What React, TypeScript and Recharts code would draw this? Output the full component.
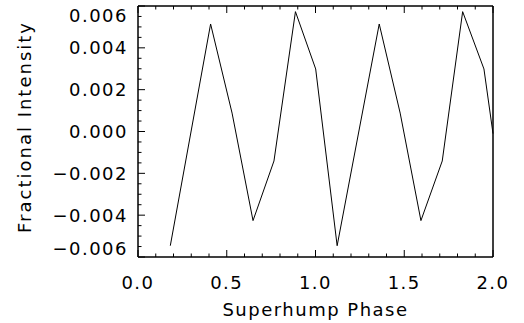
import { LineChart, Line, XAxis, YAxis, ReferenceArea } from "recharts";

const phase = [
  0.182, 0.409, 0.53, 0.648, 0.766, 0.887, 1.001, 1.122, 1.359, 1.477, 1.594,
  1.714, 1.829, 1.949, 2.0,
];
const intensity = [
  -0.00546, 0.00514, 0.00088, -0.00426, -0.00141, 0.00573, 0.00299, -0.00546,
  0.00514, 0.00088, -0.00426, -0.00141, 0.00573, 0.00299, -0.0001,
];

const xTicks = [
  0, 0.1, 0.2, 0.3, 0.4, 0.5, 0.6, 0.7, 0.8, 0.9, 1.0, 1.1, 1.2, 1.3, 1.4, 1.5,
  1.6, 1.7, 1.8, 1.9, 2.0,
];
const xMajor = [0, 0.5, 1.0, 1.5, 2.0];
const yTicks = [
  -0.006, -0.0055, -0.005, -0.0045, -0.004, -0.0035, -0.003, -0.0025, -0.002,
  -0.0015, -0.001, -0.0005, 0, 0.0005, 0.001, 0.0015, 0.002, 0.0025, 0.003,
  0.0035, 0.004, 0.0045, 0.005, 0.0055, 0.006,
];
const yMajor = [-0.006, -0.004, -0.002, 0, 0.002, 0.004, 0.006];

const data = phase.map((p, i) => ({ phase: p, value: intensity[i] }));

const FONT = "'DejaVu Sans', sans-serif";
const MAJOR = 7;
const MINOR = 3.5;

const isMajor = (list: number[], v: number) =>
  list.some((m) => Math.abs(m - v) < 1e-9);

function fmtY(v: number) {
  if (Math.abs(v) < 1e-9) return "0.000";
  const s = Math.abs(v).toFixed(3);
  return v < 0 ? "\u2212" + s : s;
}

function BottomTick(props: any) {
  const { x, y, payload } = props;
  const major = isMajor(xMajor, payload.value);
  return (
    <g>
      <path d={`M${x},${y}V${y - (major ? MAJOR : MINOR)}`} stroke="#000" strokeWidth={1} fill="none" />
      {major && (
        <text x={x} y={y + 31.5} textAnchor="middle" fontFamily={FONT} fontSize={18} letterSpacing={1.5} fill="#000">
          {payload.value.toFixed(1)}
        </text>
      )}
    </g>
  );
}

function TopTick(props: any) {
  const { x, y, payload } = props;
  const major = isMajor(xMajor, payload.value);
  return <path d={`M${x},${y}V${y + (major ? MAJOR : MINOR)}`} stroke="#000" strokeWidth={1} fill="none" />;
}

function LeftTick(props: any) {
  const { x, y, payload } = props;
  const v = payload.value;
  const major = isMajor(yMajor, v);
  // end labels sit a little inside the frame, like the original
  let shift = 0;
  if (Math.abs(v - 0.006) < 1e-9) shift = 9;
  if (Math.abs(v + 0.006) < 1e-9) shift = -9;
  return (
    <g>
      <path d={`M${x},${y}H${x + (major ? MAJOR : MINOR)}`} stroke="#000" strokeWidth={1} fill="none" />
      {major && (
        <text x={x - 10} y={y + 6.5 + shift} textAnchor="end" fontFamily={FONT} fontSize={18} letterSpacing={1.5} fill="#000">
          {fmtY(v)}
        </text>
      )}
    </g>
  );
}

function RightTick(props: any) {
  const { x, y, payload } = props;
  const major = isMajor(yMajor, payload.value);
  return <path d={`M${x},${y}H${x - (major ? MAJOR : MINOR)}`} stroke="#000" strokeWidth={1} fill="none" />;
}

export default function App() {
  return (
    <div style={{ position: "absolute", left: 0, top: 0, width: 524, height: 323 }}>
      <LineChart width={524} height={323} data={data} margin={{ top: 5, right: 30, bottom: 0, left: 0 }}>
        <XAxis
          xAxisId="b"
          dataKey="phase"
          type="number"
          domain={[0, 2]}
          ticks={xTicks}
          interval={0}
          height={66}
          tickSize={0}
          tickMargin={0}
          axisLine={{ stroke: "#000", strokeWidth: 1 }}
          tickLine={false}
          tick={(p: any) => <BottomTick {...p} />}
        />
        <XAxis
          xAxisId="t"
          orientation="top"
          dataKey="phase"
          type="number"
          domain={[0, 2]}
          ticks={xTicks}
          interval={0}
          height={1}
          tickSize={0}
          tickMargin={0}
          axisLine={{ stroke: "#000", strokeWidth: 1 }}
          tickLine={false}
          tick={(p: any) => <TopTick {...p} />}
        />
        <YAxis
          yAxisId="l"
          type="number"
          domain={[-0.006, 0.006]}
          ticks={yTicks}
          interval={0}
          width={138}
          tickSize={0}
          tickMargin={0}
          axisLine={{ stroke: "#000", strokeWidth: 1 }}
          tickLine={false}
          tick={(p: any) => <LeftTick {...p} />}
        />
        <YAxis
          yAxisId="r"
          orientation="right"
          type="number"
          domain={[-0.006, 0.006]}
          ticks={yTicks}
          interval={0}
          width={1}
          tickSize={0}
          tickMargin={0}
          axisLine={{ stroke: "#000", strokeWidth: 1 }}
          tickLine={false}
          tick={(p: any) => <RightTick {...p} />}
        />
        {/* plot frame */}
        <ReferenceArea
          xAxisId="b"
          yAxisId="l"
          x1={0}
          x2={2}
          y1={-0.006}
          y2={0.006}
          fill="none"
          fillOpacity={0}
          stroke="#000"
          strokeWidth={1}
          strokeOpacity={1}
          ifOverflow="visible"
        />
        <Line
          xAxisId="b"
          yAxisId="l"
          type="linear"
          dataKey="value"
          stroke="#000"
          strokeWidth={1}
          dot={false}
          isAnimationActive={false}
        />
      </LineChart>
      {/* axis titles */}
      <svg width={524} height={323} style={{ position: "absolute", left: 0, top: 0, pointerEvents: "none" }}>
        <text x={315.5} y={316} textAnchor="middle" fontFamily={FONT} fontSize={18} letterSpacing={1.5} fill="#000">
          Superhump Phase
        </text>
        <text
          x={31}
          y={127}
          transform="rotate(-90 31 127)"
          textAnchor="middle"
          fontFamily={FONT}
          fontSize={18}
          letterSpacing={2}
          fill="#000"
        >
          Fractional Intensity
        </text>
      </svg>
    </div>
  );
}
